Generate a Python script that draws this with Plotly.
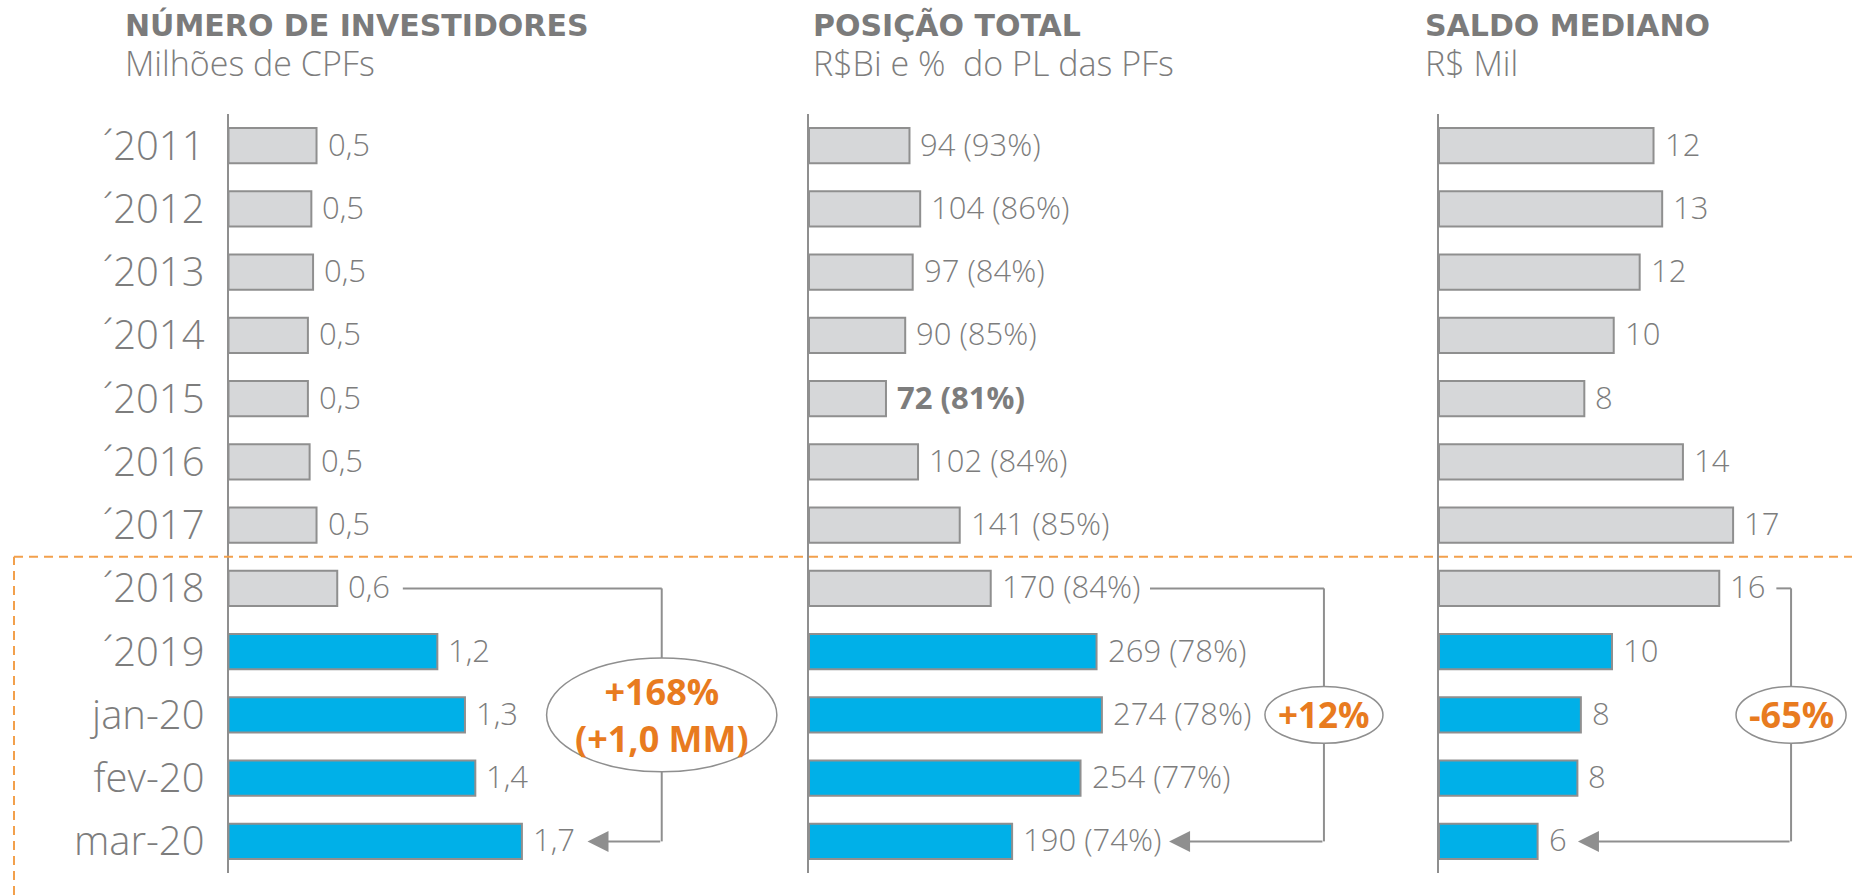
import plotly.graph_objects as go

# ---------------- data ----------------
categories = ["´2011", "´2012", "´2013", "´2014", "´2015", "´2016", "´2017",
              "´2018", "´2019", "jan-20", "fev-20", "mar-20"]
highlighted = ["´2019", "jan-20", "fev-20", "mar-20"]

investidores = [0.51, 0.48, 0.49, 0.46, 0.46, 0.47, 0.51, 0.63, 1.21, 1.37, 1.43, 1.70]
investidores_labels = ["0,5", "0,5", "0,5", "0,5", "0,5", "0,5", "0,5",
                       "0,6", "1,2", "1,3", "1,4", "1,7"]

posicao = [94, 104, 97, 90, 72, 102, 141, 170, 269, 274, 254, 190]
posicao_pct = [93, 86, 84, 85, 81, 84, 85, 84, 78, 78, 77, 74]
posicao_bold = ["´2015"]

saldo = [12.4, 12.9, 11.6, 10.1, 8.4, 14.1, 17.0, 16.2, 10.0, 8.2, 8.0, 5.7]
saldo_labels = ["12", "13", "12", "10", "8", "14", "17", "16", "10", "8", "8", "6"]

titles = ["NÚMERO DE INVESTIDORES", "POSIÇÃO TOTAL", "SALDO MEDIANO"]
subtitles = ["Milhões de CPFs", "R$Bi e %  do PL das PFs", "R$ Mil"]
changes = ["+168%<br>(+1,0 MM)", "+12%", "-65%"]

posicao_labels = [
    (f"<b>{v} ({p}%)</b>" if c in posicao_bold else f"{v} ({p}%)")
    for c, v, p in zip(categories, posicao, posicao_pct)
]

# ---------------- style / geometry ----------------
W, H = 1852, 895
GRAY_FILL = "#d6d7d9"
BLUE = "#00b0e8"
OUTLINE = "#8f8f8f"
TEXT = "#7d7d7d"
TITLE = "#7b7b7b"
ORANGE = "#e87b1f"
ORANGE_DASH = "#f2a04c"
LIGHT = "Open Sans"

axis_px = [228.5, 809, 1439]
px_per_unit = [172.6, 1.069, 17.3]
right_px = [790, 1400, 1852]
title_px = [123, 811, 1423]
y_top, y_bot = 114, 873

# bracket geometry (data units of each panel)
bracket_start = [1.01, 319, 19.5]
bracket_vert = [2.51, 481.7, 20.35]
bracket_tip = [2.08, 336.8, 8.03]
ellipse_rx = [0.667, 55.2, 3.18]
ellipse_ry = [0.9, 0.45, 0.45]
change_size = [36, 35, 36]

panels = [
    (investidores, investidores_labels),
    (posicao, posicao_labels),
    (saldo, saldo_labels),
]

fig = go.Figure()
layout_axes = {}
annotations = []
shapes = []

n = len(categories)
ydom = [(H - y_bot) / H, (H - y_top) / H]
row_from = categories.index("´2018")
row_to = categories.index("mar-20")
row_mid = categories.index("jan-20")

for p, (vals, labels) in enumerate(panels):
    sfx = "" if p == 0 else str(p + 1)
    xa, ya = "x" + sfx, "y" + sfx
    colors = [BLUE if c in highlighted else GRAY_FILL for c in categories]
    fig.add_trace(go.Bar(
        x=vals, y=categories, orientation="h", xaxis=xa, yaxis=ya,
        marker=dict(color=colors, line=dict(color=OUTLINE, width=2)),
        width=0.56, hoverinfo="skip", showlegend=False,
    ))
    layout_axes["xaxis" + sfx] = dict(
        domain=[axis_px[p] / W, right_px[p] / W],
        range=[0, (right_px[p] - axis_px[p]) / px_per_unit[p]],
        visible=False, anchor=ya, fixedrange=True,
    )
    layout_axes["yaxis" + sfx] = dict(
        domain=ydom, type="category", categoryorder="array",
        categoryarray=categories, range=[n - 0.5, -0.5], anchor=xa,
        showline=True, linecolor=OUTLINE, linewidth=2,
        showgrid=False, zeroline=False, ticks="",
        showticklabels=(p == 0), ticklabelstandoff=14,
        tickfont=dict(family=LIGHT, size=40, color=TEXT, weight=300),
        fixedrange=True,
    )
    # value labels
    for c, v, t in zip(categories, vals, labels):
        annotations.append(dict(
            x=v, y=c, xref=xa, yref=ya, text=t, showarrow=False,
            xanchor="left", yanchor="middle", xshift=9, yshift=2,
            font=dict(family=LIGHT, size=31, color=TEXT, weight=300),
        ))
    # titles
    annotations.append(dict(
        x=title_px[p] / W, y=(H - 25) / H, xref="paper", yref="paper",
        text=titles[p], showarrow=False, xanchor="left", yanchor="middle",
        font=dict(family="DejaVu Sans", size=30, color=TITLE, weight=700),
    ))
    annotations.append(dict(
        x=title_px[p] / W, y=(H - 63) / H, xref="paper", yref="paper",
        text=subtitles[p], showarrow=False, xanchor="left", yanchor="middle",
        font=dict(family=LIGHT, size=34, color=TEXT, weight=300),
    ))
    # bracket connector
    line = dict(color=OUTLINE, width=2)
    shapes.append(dict(type="line", xref=xa, yref=ya, layer="above",
                       x0=bracket_start[p], x1=bracket_vert[p], y0=row_from, y1=row_from, line=line))
    shapes.append(dict(type="line", xref=xa, yref=ya, layer="above",
                       x0=bracket_vert[p], x1=bracket_vert[p], y0=row_from, y1=row_to, line=line))
    annotations.append(dict(
        x=bracket_tip[p], y=row_to, xref=xa, yref=ya,
        ax=bracket_vert[p], ay=0, axref=xa, ayref="pixel",
        text="", showarrow=True, arrowhead=2, arrowsize=2.1,
        arrowwidth=2, arrowcolor=OUTLINE,
    ))
    shapes.append(dict(type="circle", xref=xa, yref=ya, layer="above",
                       x0=bracket_vert[p] - ellipse_rx[p], x1=bracket_vert[p] + ellipse_rx[p],
                       y0=row_mid - ellipse_ry[p], y1=row_mid + ellipse_ry[p],
                       fillcolor="white", line=dict(color=OUTLINE, width=1.5)))
    annotations.append(dict(
        x=bracket_vert[p], y=row_mid, xref=xa, yref=ya, text=changes[p],
        showarrow=False, xanchor="center", yanchor="middle",
        font=dict(family="Open Sans", size=change_size[p], color=ORANGE, weight=700),
    ))

# orange dashed separator between 2017 and 2018
sep_row = categories.index("´2018") - 0.5
sep_y = ydom[0] + (n - 0.5 - sep_row) / n * (ydom[1] - ydom[0])
dash_line = dict(color=ORANGE_DASH, width=2, dash="9px,6px")
shapes.append(dict(type="line", xref="paper", yref="paper", layer="above",
                   x0=14 / W, x1=1, y0=sep_y, y1=sep_y, line=dash_line))
shapes.append(dict(type="line", xref="paper", yref="paper", layer="above",
                   x0=14 / W, x1=14 / W, y0=0, y1=sep_y, line=dash_line))

fig.update_layout(
    width=W, height=H, margin=dict(l=0, r=0, t=0, b=0),
    paper_bgcolor="white", plot_bgcolor="white",
    barmode="overlay", showlegend=False,
    annotations=annotations, shapes=shapes,
    **layout_axes,
)

fig.write_html("out.html", config=dict(displayModeBar=False, staticPlot=True),
               post_script="document.body.style.margin='0';document.body.style.overflow='hidden';")
